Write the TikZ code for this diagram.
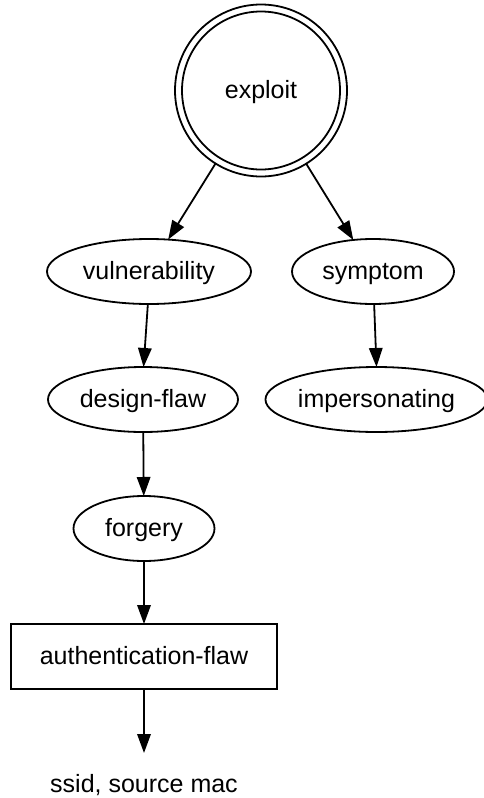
\documentclass[tikz,border=0pt]{standalone}
\usepackage{fontspec}
\setmainfont{Liberation Sans}
\usetikzlibrary{arrows.meta,shapes.geometric}
\tikzset{
  base/.style={draw, line width=1.8pt, inner sep=0pt, outer sep=0pt, text height=20pt, text depth=4.5pt, font=\fontsize{25}{30}\selectfont},
  oval/.style={base, ellipse},
  boxnode/.style={base, rectangle},
  plain/.style={inner sep=0pt, outer sep=0pt, text height=20pt, text depth=4.5pt, font=\fontsize{25}{30}\selectfont},
  edge/.style={line width=1.8pt, -{Triangle[length=19pt,width=13.5pt]}},
}
\begin{document}
\begin{tikzpicture}[x=1pt,y=-1pt]
\useasboundingbox (0,0) rectangle (484,798);
\node[base, circle, minimum size=172pt] (exploit) at (261,90.5) {exploit};
\node[draw, line width=1.8pt, circle, minimum size=158pt, inner sep=0pt] (exploitin) at (261,90.5) {};
\node[oval, minimum width=204pt, minimum height=65pt] (vul) at (149,271.5) {vulnerability};
\node[oval, minimum width=162pt, minimum height=65pt] (sym) at (373,271.5) {symptom};
\node[oval, minimum width=190pt, minimum height=65pt] (df) at (143,399.5) {design-flaw};
\node[oval, minimum width=212pt, minimum height=65pt] (imp) at (376.5,399.5) {impersonating};
\node[oval, minimum width=141pt, minimum height=65pt] (forg) at (144,528.5) {forgery};
\node[boxnode, minimum width=266pt, minimum height=65pt] (auth) at (144,656.5) {authentication-flaw};
\node[plain, minimum height=64pt] (ssid) at (144,785) {ssid, source mac};
\draw[edge] (exploit) -- (vul.59);
\draw[edge] (exploit) -- (sym.122);
\draw[edge] (vul.268) -- (df.89);
\draw[edge] (sym.272) -- (imp.90);
\draw[edge] (df) -- (forg);
\draw[edge] (forg) -- (auth);
\draw[edge] (auth) -- (ssid);
\end{tikzpicture}
\end{document}
